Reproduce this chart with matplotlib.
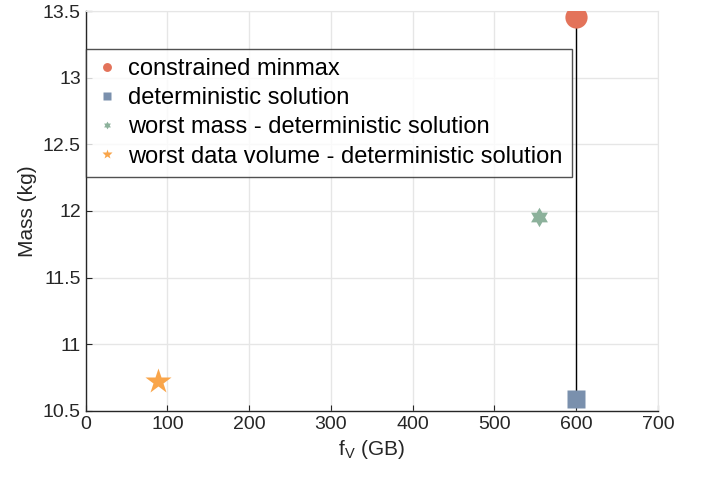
import numpy as np
import matplotlib
matplotlib.use('Agg')
import matplotlib.pyplot as plt
from matplotlib.path import Path

plt.rcParams['font.family'] = ['Liberation Sans', 'DejaVu Sans']

# data
labels = ['constrained minmax', 'deterministic solution',
          'worst mass - deterministic solution',
          'worst data volume - deterministic solution']
fv = [600, 600, 554, 88]          # GB
mass = [13.455, 10.59, 11.955, 10.725]  # kg
colors = ['#e3735a', '#7a90ad', '#8cb19b', '#f9a54a']

# six point star (hexagram) marker
ang = np.deg2rad(np.arange(12) * 30 + 90)
rad = np.where(np.arange(12) % 2 == 0, 1.0, 0.577)
hexagram = Path(np.column_stack([rad * np.cos(ang), rad * np.sin(ang)]))

fig = plt.figure(figsize=(7.04, 4.84), dpi=100)
ax = fig.add_axes([0.1217, 0.1514, 0.8130, 0.8253])

# line joining minmax and deterministic point
ax.plot([fv[0], fv[1]], [mass[0], mass[1]], color='black', lw=1, zorder=2)

ax.plot(fv[0], mass[0], 'o', ms=16, color=colors[0], mec='none', label=labels[0], zorder=3)
ax.plot(fv[1], mass[1], 's', ms=13, color=colors[1], mec='none', label=labels[1], zorder=3)
ax.plot(fv[2], mass[2], marker=hexagram, ls='none', ms=14, color=colors[2], mec='none',
        label=labels[2], zorder=3)
ax.plot(fv[3], mass[3], '*', ms=19, color=colors[3], mec='none', label=labels[3], zorder=3)

ax.set_xlim(0, 700)
ax.set_ylim(10.5, 13.5)
ax.set_xticks(np.arange(0, 701, 100))
ax.set_yticks([10.5, 11, 11.5, 12, 12.5, 13, 13.5])
ax.set_yticklabels(['10.5', '11', '11.5', '12', '12.5', '13', '13.5'])
ax.grid(True, color='#e6e6e6', lw=1)
ax.set_axisbelow(True)

for s in ['top', 'right']:
    ax.spines[s].set_color('#e6e6e6')
for s in ['left', 'bottom']:
    ax.spines[s].set_color('#262626')
    ax.spines[s].set_linewidth(1)
ax.tick_params(direction='in', length=4, labelsize=14, colors='#262626',
               top=False, right=False)

ax.set_xlabel('f$_\\mathregular{V}$ (GB)', fontsize=15, color='#262626')
ax.set_ylabel('Mass (kg)', fontsize=15, color='#262626')

leg = ax.legend(loc='upper left', bbox_to_anchor=(0.0, 0.906), fontsize=17,
                markerscale=0.4, frameon=True, fancybox=False, edgecolor='#262626',
                borderaxespad=0, borderpad=0.4, handlelength=1.0, handletextpad=0.4,
                labelspacing=0.3)
leg.get_frame().set_linewidth(1)

plt.savefig('out.png', dpi=100)
